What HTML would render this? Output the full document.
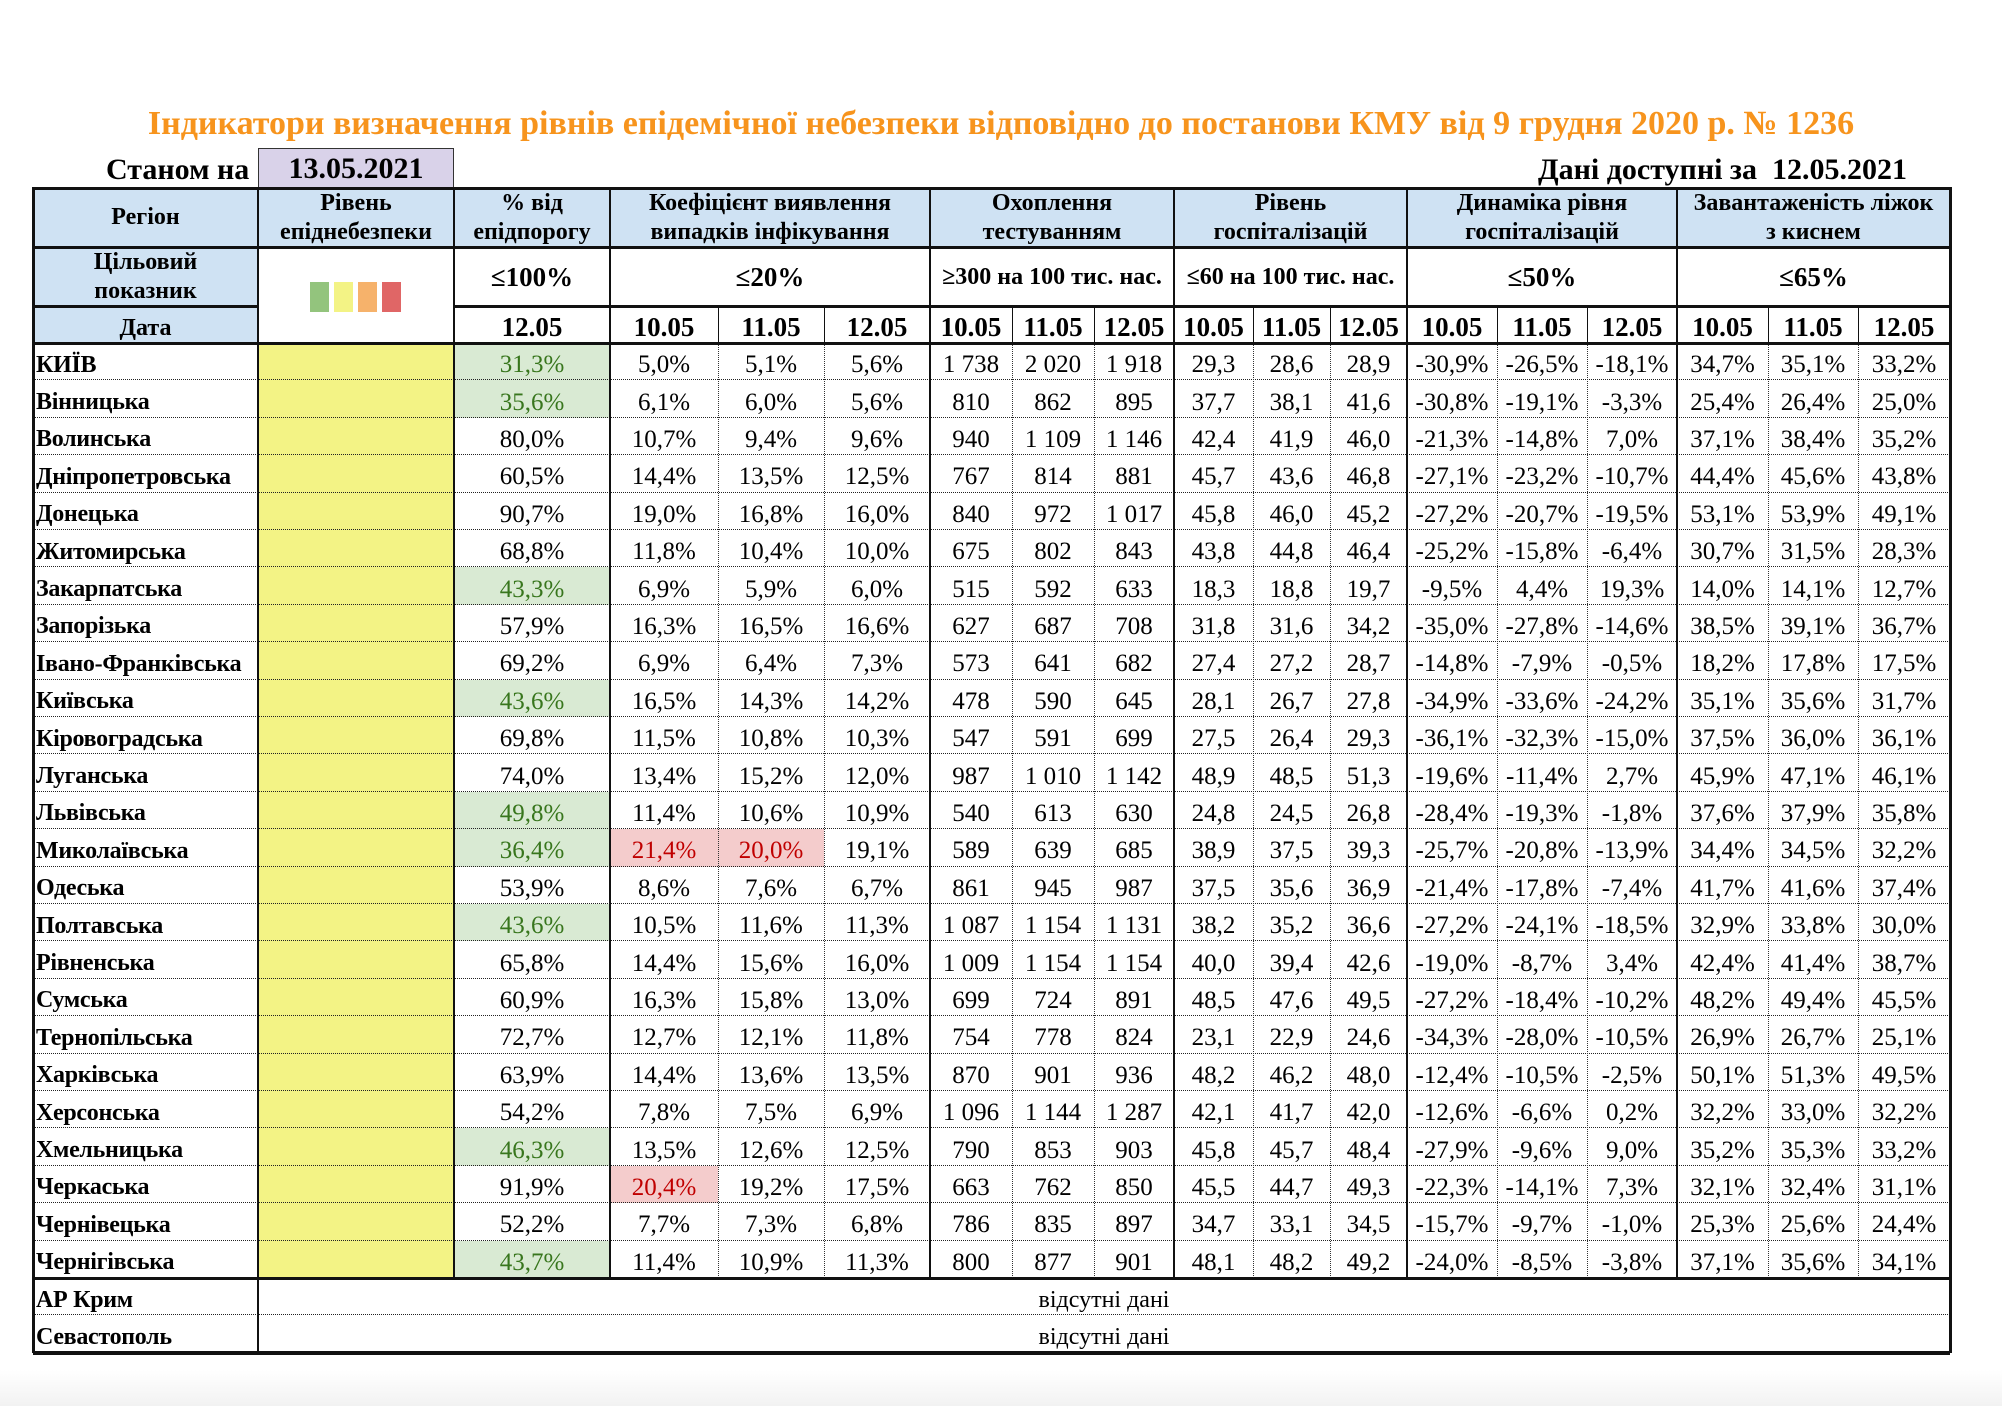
<!DOCTYPE html>
<html><head><meta charset="utf-8">
<style>
html,body{margin:0;padding:0}
body{width:2002px;height:1406px;position:relative;overflow:hidden;background:linear-gradient(#fff 0,#fff 1370px,#f2f2f2 1406px);font-family:"Liberation Serif",serif;color:#000}
.a{position:absolute;box-sizing:border-box}
.t{display:flex;align-items:center;justify-content:center;text-align:center;white-space:nowrap}
.hl{border-top:1.5px dotted #222;height:0}
.vl{border-left:1.5px dotted #333;width:0}
</style></head><body>
<div id="title" class="a t" style="left:0;width:2002px;top:102px;height:44px;font-size:34px;font-weight:bold;color:#f7941d">Індикатори визначення рівнів епідемічної небезпеки відповідно до постанови КМУ від 9 грудня 2020 р. № 1236</div>
<div class="a" style="left:106px;top:153px;font-size:30px;font-weight:bold">Станом на</div>
<div class="a t" style="left:258px;top:148px;width:196px;height:41px;background:#d9d2e9;border:1.5px solid #333;font-size:30px;font-weight:bold">13.05.2021</div>
<div class="a" style="right:95px;top:153px;font-size:30px;font-weight:bold">Дані доступні за&nbsp; 12.05.2021</div>
<div id="tbl"></div>
<script>
const regions=["КИЇВ","Вінницька","Волинська","Дніпропетровська","Донецька","Житомирська","Закарпатська","Запорізька","Івано-Франківська","Київська","Кіровоградська","Луганська","Львівська","Миколаївська","Одеська","Полтавська","Рівненська","Сумська","Тернопільська","Харківська","Херсонська","Хмельницька","Черкаська","Чернівецька","Чернігівська"];
const epid=["31,3%","35,6%","80,0%","60,5%","90,7%","68,8%","43,3%","57,9%","69,2%","43,6%","69,8%","74,0%","49,8%","36,4%","53,9%","43,6%","65,8%","60,9%","72,7%","63,9%","54,2%","46,3%","91,9%","52,2%","43,7%"];
const koef=[["5,0%","5,1%","5,6%"],["6,1%","6,0%","5,6%"],["10,7%","9,4%","9,6%"],["14,4%","13,5%","12,5%"],["19,0%","16,8%","16,0%"],["11,8%","10,4%","10,0%"],["6,9%","5,9%","6,0%"],["16,3%","16,5%","16,6%"],["6,9%","6,4%","7,3%"],["16,5%","14,3%","14,2%"],["11,5%","10,8%","10,3%"],["13,4%","15,2%","12,0%"],["11,4%","10,6%","10,9%"],["21,4%","20,0%","19,1%"],["8,6%","7,6%","6,7%"],["10,5%","11,6%","11,3%"],["14,4%","15,6%","16,0%"],["16,3%","15,8%","13,0%"],["12,7%","12,1%","11,8%"],["14,4%","13,6%","13,5%"],["7,8%","7,5%","6,9%"],["13,5%","12,6%","12,5%"],["20,4%","19,2%","17,5%"],["7,7%","7,3%","6,8%"],["11,4%","10,9%","11,3%"]];
const tests=[["1 738","2 020","1 918"],["810","862","895"],["940","1 109","1 146"],["767","814","881"],["840","972","1 017"],["675","802","843"],["515","592","633"],["627","687","708"],["573","641","682"],["478","590","645"],["547","591","699"],["987","1 010","1 142"],["540","613","630"],["589","639","685"],["861","945","987"],["1 087","1 154","1 131"],["1 009","1 154","1 154"],["699","724","891"],["754","778","824"],["870","901","936"],["1 096","1 144","1 287"],["790","853","903"],["663","762","850"],["786","835","897"],["800","877","901"]];
const hosp=[["29,3","28,6","28,9"],["37,7","38,1","41,6"],["42,4","41,9","46,0"],["45,7","43,6","46,8"],["45,8","46,0","45,2"],["43,8","44,8","46,4"],["18,3","18,8","19,7"],["31,8","31,6","34,2"],["27,4","27,2","28,7"],["28,1","26,7","27,8"],["27,5","26,4","29,3"],["48,9","48,5","51,3"],["24,8","24,5","26,8"],["38,9","37,5","39,3"],["37,5","35,6","36,9"],["38,2","35,2","36,6"],["40,0","39,4","42,6"],["48,5","47,6","49,5"],["23,1","22,9","24,6"],["48,2","46,2","48,0"],["42,1","41,7","42,0"],["45,8","45,7","48,4"],["45,5","44,7","49,3"],["34,7","33,1","34,5"],["48,1","48,2","49,2"]];
const dyn=[["-30,9%","-26,5%","-18,1%"],["-30,8%","-19,1%","-3,3%"],["-21,3%","-14,8%","7,0%"],["-27,1%","-23,2%","-10,7%"],["-27,2%","-20,7%","-19,5%"],["-25,2%","-15,8%","-6,4%"],["-9,5%","4,4%","19,3%"],["-35,0%","-27,8%","-14,6%"],["-14,8%","-7,9%","-0,5%"],["-34,9%","-33,6%","-24,2%"],["-36,1%","-32,3%","-15,0%"],["-19,6%","-11,4%","2,7%"],["-28,4%","-19,3%","-1,8%"],["-25,7%","-20,8%","-13,9%"],["-21,4%","-17,8%","-7,4%"],["-27,2%","-24,1%","-18,5%"],["-19,0%","-8,7%","3,4%"],["-27,2%","-18,4%","-10,2%"],["-34,3%","-28,0%","-10,5%"],["-12,4%","-10,5%","-2,5%"],["-12,6%","-6,6%","0,2%"],["-27,9%","-9,6%","9,0%"],["-22,3%","-14,1%","7,3%"],["-15,7%","-9,7%","-1,0%"],["-24,0%","-8,5%","-3,8%"]];
const beds=[["34,7%","35,1%","33,2%"],["25,4%","26,4%","25,0%"],["37,1%","38,4%","35,2%"],["44,4%","45,6%","43,8%"],["53,1%","53,9%","49,1%"],["30,7%","31,5%","28,3%"],["14,0%","14,1%","12,7%"],["38,5%","39,1%","36,7%"],["18,2%","17,8%","17,5%"],["35,1%","35,6%","31,7%"],["37,5%","36,0%","36,1%"],["45,9%","47,1%","46,1%"],["37,6%","37,9%","35,8%"],["34,4%","34,5%","32,2%"],["41,7%","41,6%","37,4%"],["32,9%","33,8%","30,0%"],["42,4%","41,4%","38,7%"],["48,2%","49,4%","45,5%"],["26,9%","26,7%","25,1%"],["50,1%","51,3%","49,5%"],["32,2%","33,0%","32,2%"],["35,2%","35,3%","33,2%"],["32,1%","32,4%","31,1%"],["25,3%","25,6%","24,4%"],["37,1%","35,6%","34,1%"]];
const X=[33,258,454,610,718,824,930,1012,1094,1174,1253,1330,1407,1497,1587,1677,1768,1858,1950];
const Y0=188,Y1=247,Y2=306,Y3=343,RH=37.4;
const T=document.getElementById('tbl');
function box(x,y,w,h,txt,st){const d=document.createElement('div');d.className='a t';d.style.cssText=`left:${x}px;top:${y}px;width:${w}px;height:${h}px;`+(st||'');d.innerHTML=txt;T.appendChild(d);return d;}
function line(x,y,w,h,bg){const d=document.createElement('div');d.className='a';d.style.cssText=`left:${x}px;top:${y}px;width:${w}px;height:${h}px;background:${bg||'#111'}`;T.appendChild(d);

return d;}
const HB='background:#cfe2f3;';const HF='font-weight:bold;font-size:24px;line-height:29px;';
const groups=[[0,1,"Регіон"],[1,2,"Рівень<br>епіднебезпеки"],[2,3,"% від<br>епідпорогу"],[3,6,"Коефіцієнт виявлення<br>випадків інфікування"],[6,9,"Охоплення<br>тестуванням"],[9,12,"Рівень<br>госпіталізацій"],[12,15,"Динаміка рівня<br>госпіталізацій"],[15,18,"Завантаженість ліжок<br>з киснем"]];
const targets=[[2,3,"≤100%"],[3,6,"≤20%"],[6,9,"≥300 на 100 тис. нас."],[9,12,"≤60 на 100 тис. нас."],[12,15,"≤50%"],[15,18,"≤65%"]];
const dates=["12.05","10.05","11.05","12.05","10.05","11.05","12.05","10.05","11.05","12.05","10.05","11.05","12.05","10.05","11.05","12.05"];
groups.forEach(g=>{const d=box(X[g[0]],Y0,X[g[1]]-X[g[0]],Y1-Y0,g[2],HB+HF);

});
let d=box(X[0],Y1,X[1]-X[0],Y2-Y1,"Цільовий<br>показник",HB+HF);


d=box(X[0],Y2,X[1]-X[0],Y3-Y2,"Дата",HB+HF+'padding-top:8px;');


targets.forEach(g=>{const d=box(X[g[0]],Y1,X[g[1]]-X[g[0]],Y2-Y1,g[2],'font-weight:bold;font-size:'+(g[2].length>8?'24':'27')+'px;padding-top:2px;');

});
dates.forEach((t,i)=>{const d=box(X[i+2],Y2,X[i+3]-X[i+2],Y3-Y2,t,'font-weight:bold;font-size:27px;padding-top:6px;');

});
["#93c47d","#f3f385","#f6b26b","#e06666"].forEach((c,i)=>{const s=document.createElement('div');s.className='a';s.style.cssText=`left:${310+i*24}px;top:282px;width:19px;height:30px;background:${c}`;T.appendChild(s);

});
const DF='font-size:25px;padding-top:7px;';
const RF='justify-content:flex-start;font-weight:bold;font-size:24px;letter-spacing:-0.3px;padding-top:7px;';
regions.forEach((r,i)=>{const y=Y3+i*RH;
let d=box(X[0]+3,y,X[1]-X[0]-3,RH,r,RF);


d=box(X[1],y,X[2]-X[1],RH,'','background:#f3f385;');


const ev=parseFloat(epid[i].replace(',','.'));
d=box(X[2],y,X[3]-X[2],RH,epid[i],DF+(ev<50?'background:#d9ead3;color:#38761d;':''));


const vals=[...koef[i],...tests[i],...hosp[i],...dyn[i],...beds[i]];
vals.forEach((v,j)=>{let st=DF;
if(j<3&&parseFloat(v.replace(',','.'))>=20)st+='background:#f4cccc;color:#c00000;';
const c=box(X[j+3],y,X[j+4]-X[j+3],RH,v,st);

});
});
const Y4=Y3+25*RH;
["АР Крим","Севастополь"].forEach((r,i)=>{const y=Y4+i*RH;
let d=box(X[0]+3,y,X[1]-X[0]-3,RH,r,RF);


d=box(X[1],y,X[18]-X[1],RH,'відсутні дані','font-size:24px;padding-top:7px;');

});
const YE=Y4+2*RH;
for(let i=1;i<27;i++){if(i==25)continue;const h=document.createElement('div');h.className='a hl';h.style.cssText+=`left:${X[0]}px;top:${Y3+i*RH-1}px;width:${X[18]-X[0]}px`;T.appendChild(h);

}
const solid=[1,2,3,6,9,12,15];
for(let k=1;k<18;k++){if(solid.includes(k))continue;const v=document.createElement('div');v.className='a vl';v.style.cssText+=`left:${X[k]}px;top:${Y3}px;height:${Y4-Y3}px`;T.appendChild(v);


line(X[k]-0.5,Y2,1.5,Y3-Y2);}
solid.forEach(k=>{line(X[k]-1,Y0,2,(k==1?YE:Y4)-Y0);});
line(X[0],Y0-1.5,X[18]-X[0],3);
line(X[0],Y1-1.5,X[18]-X[0],3);
line(X[2],Y2-1.5,X[18]-X[2],3);
line(X[0],Y2-1.5,X[1]-X[0],3);
line(X[0],Y3-1.5,X[18]-X[0],3);
line(X[0],Y4-1.5,X[18]-X[0],3);
line(X[0],YE-1.5,X[18]-X[0],3.5);
line(X[0]-1.5,Y0-1.5,3,YE-Y0+1.5);
line(X[18]-1.5,Y0-1.5,3,YE-Y0+1.5);
</script>
</body></html>
